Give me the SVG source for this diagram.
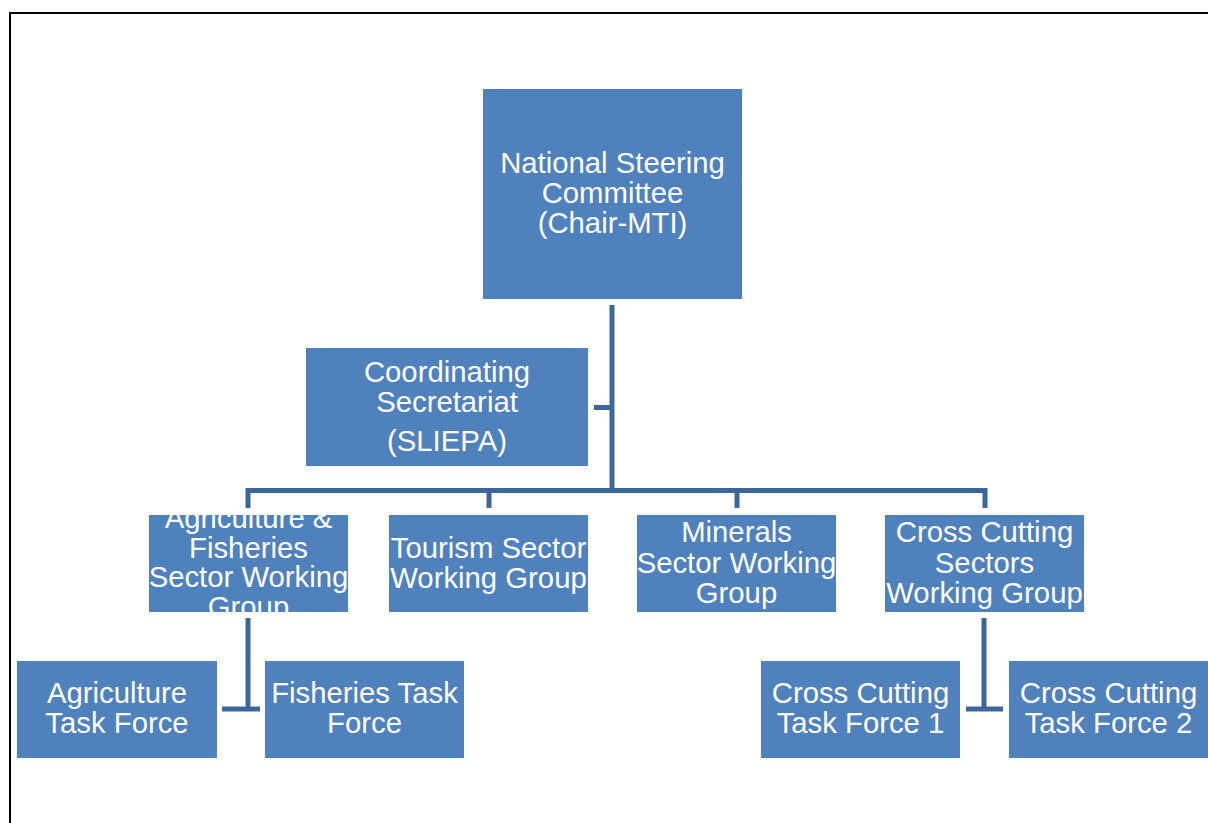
<svg xmlns="http://www.w3.org/2000/svg" width="1208" height="823" viewBox="0 0 1208 823">
<style>
.box{fill:#4F81BD;}
.t{font-family:"Liberation Sans",Arial,sans-serif;font-size:29.3px;fill:#FFFFFF;text-anchor:middle;}
.c{stroke:#3D679B;stroke-width:5;fill:none;}
</style>
<defs>
<clipPath id="cAgri"><rect x="149" y="515" width="199" height="97"/></clipPath>
<clipPath id="cTour"><rect x="389" y="515" width="199" height="97"/></clipPath>
<clipPath id="cMin"><rect x="637" y="515" width="199" height="97"/></clipPath>
<clipPath id="cCross"><rect x="885" y="515" width="199" height="97"/></clipPath>
</defs>
<rect x="0" y="0" width="1208" height="823" fill="#FFFFFF"/>
<g id="frame">
<line x1="10" y1="13" x2="1208" y2="13" stroke="#000" stroke-width="2"/>
<line x1="10" y1="12" x2="10" y2="823" stroke="#000" stroke-width="2"/>
</g>
<g id="connectors">
<line class="c" x1="612" y1="305" x2="612" y2="493"/>
<line class="c" x1="594" y1="407.5" x2="612" y2="407.5"/>
<path class="c" d="M248,508 V490.5 H985 V508"/>
<line class="c" x1="489" y1="490" x2="489" y2="508"/>
<line class="c" x1="737" y1="490" x2="737" y2="508"/>
<line class="c" x1="248" y1="618" x2="248" y2="711"/>
<line class="c" x1="222" y1="709" x2="260" y2="709"/>
<line class="c" x1="984" y1="618" x2="984" y2="711"/>
<line class="c" x1="966" y1="709" x2="1003" y2="709"/>
</g>
<g id="nsc">
<rect class="box" x="483" y="89" width="259" height="210"/>
<text class="t" x="612.5" y="173">National Steering</text>
<text class="t" x="612.5" y="203">Committee</text>
<text class="t" x="612.5" y="233">(Chair-MTI)</text>
</g>
<g id="secretariat">
<rect class="box" x="306" y="348" width="282" height="118"/>
<text class="t" x="447" y="382">Coordinating</text>
<text class="t" x="447" y="412">Secretariat</text>
<text class="t" x="447" y="451">(SLIEPA)</text>
</g>
<g id="agri-swg">
<rect class="box" x="149" y="515" width="199" height="97"/>
<g clip-path="url(#cAgri)">
<text class="t" x="248.5" y="528">Agriculture &amp;</text>
<text class="t" x="248.5" y="558">Fisheries</text>
<text class="t" x="248.5" y="587">Sector Working</text>
<text class="t" x="248.5" y="617">Group</text>
</g>
</g>
<g id="tourism-swg">
<rect class="box" x="389" y="515" width="199" height="97"/>
<g clip-path="url(#cTour)">
<text class="t" x="488.5" y="558">Tourism Sector</text>
<text class="t" x="488.5" y="588">Working Group</text>
</g>
</g>
<g id="minerals-swg">
<rect class="box" x="637" y="515" width="199" height="97"/>
<g clip-path="url(#cMin)">
<text class="t" x="736.5" y="542">Minerals</text>
<text class="t" x="736.5" y="573">Sector Working</text>
<text class="t" x="736.5" y="603">Group</text>
</g>
</g>
<g id="cross-swg">
<rect class="box" x="885" y="515" width="199" height="97"/>
<g clip-path="url(#cCross)">
<text class="t" x="984.5" y="542">Cross Cutting</text>
<text class="t" x="984.5" y="573">Sectors</text>
<text class="t" x="984.5" y="603">Working Group</text>
</g>
</g>
<g id="agri-tf">
<rect class="box" x="17" y="661" width="200" height="97"/>
<text class="t" x="117" y="703">Agriculture</text>
<text class="t" x="117" y="733">Task Force</text>
</g>
<g id="fish-tf">
<rect class="box" x="265" y="661" width="199" height="97"/>
<text class="t" x="364.5" y="703">Fisheries Task</text>
<text class="t" x="364.5" y="733">Force</text>
</g>
<g id="cross-tf1">
<rect class="box" x="761" y="661" width="199" height="97"/>
<text class="t" x="860.5" y="703">Cross Cutting</text>
<text class="t" x="860.5" y="733">Task Force 1</text>
</g>
<g id="cross-tf2">
<rect class="box" x="1009" y="661" width="199" height="97"/>
<text class="t" x="1108.5" y="703">Cross Cutting</text>
<text class="t" x="1108.5" y="733">Task Force 2</text>
</g>
</svg>
